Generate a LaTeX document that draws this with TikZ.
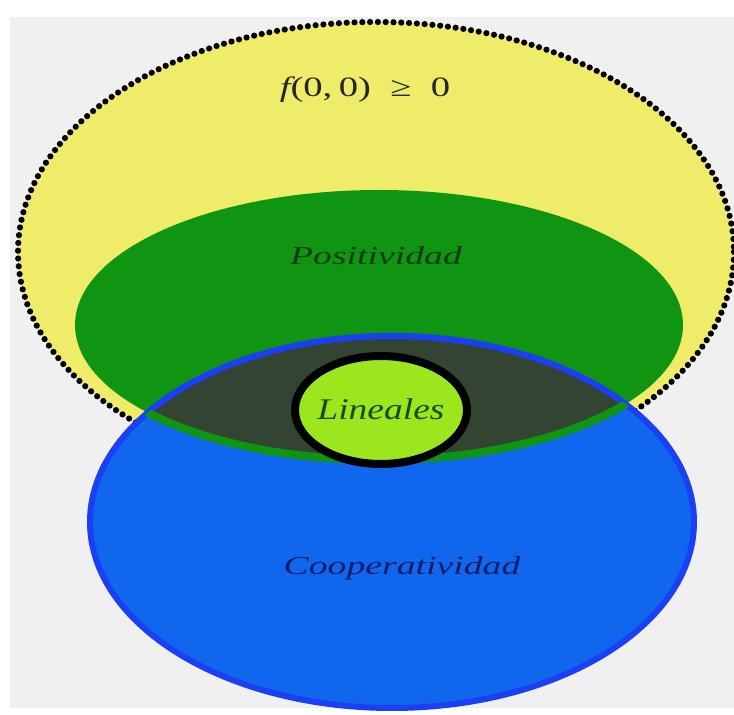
\documentclass[tikz,border=0pt]{standalone}
\usepackage{fontspec}
\usepackage{graphicx}
\setmainfont{Liberation Serif}
\definecolor{bggray}{HTML}{F0F0F0}
\definecolor{yellowfill}{HTML}{EFEC6A}
\definecolor{posgreen}{HTML}{0F9512}
\definecolor{coopblue}{HTML}{1166EE}
\definecolor{coopedge}{HTML}{1A3FF5}
\definecolor{darkcore}{HTML}{334433}
\definecolor{limefill}{HTML}{9CE61E}
\definecolor{postext}{HTML}{143A14}
\definecolor{lintext}{HTML}{1A4A1A}
\definecolor{cooptext}{HTML}{0B1E6E}
\tikzset{
	dotborder/.style={draw=black, line width=3.1pt, line cap=round, dash pattern=on 0pt off 3.9pt},
	setlabel/.style={anchor=base, inner sep=0pt, font=\fontsize{13pt}{15pt}\selectfont\itshape}
}
\newcommand{\wide}[2][1.45]{\scalebox{#1}[1]{#2}}
\begin{document}
\begin{tikzpicture}[x=0.5pt, y=-0.5pt]
	\fill[white] (0,0) rectangle (734,715);
	\fill[bggray] (10,17) rectangle (734,708);
	\useasboundingbox (0,0) rectangle (734,715);
	\coordinate (cero) at (376,252);
	\coordinate (posi) at (379,325);
	\coordinate (coop) at (392,522);
	\coordinate (lin) at (381,410);
	\fill[yellowfill] (cero) ellipse [x radius=358, y radius=230];
	\draw[dotborder] (cero) ellipse [x radius=358, y radius=230];
	\fill[posgreen] (posi) ellipse [x radius=304, y radius=135];
	\filldraw[fill=coopblue, draw=coopedge, line width=3pt] (coop) ellipse [x radius=302, y radius=186];
	\begin{scope}
		\clip (posi) ellipse [x radius=304, y radius=135];
		\filldraw[fill=darkcore, draw=coopedge, line width=3pt] (coop) ellipse [x radius=302, y radius=186];
	\end{scope}
	\begin{scope}
		\clip (coop) ellipse [x radius=302, y radius=186];
		\draw[posgreen, line width=4pt] (posi) ellipse [x radius=304, y radius=135];
	\end{scope}
	\filldraw[fill=limefill, draw=black, line width=4pt] (lin) ellipse [x radius=86, y radius=54];
	\node[setlabel, font=\fontsize{14pt}{16pt}\selectfont, text=black!85] (cerolabel) at (365,97) {\wide[1.38]{{\itshape f}(0,\,0)\enspace≥\enspace0}};
	\node[setlabel, text=postext] (posilabel) at (376,265) {\wide{Positividad}};
	\node[setlabel, font=\fontsize{15pt}{17pt}\selectfont\itshape, text=lintext] (linlabel) at (381,420) {\wide[1.25]{Lineales}};
	\node[setlabel, text=cooptext] (cooplabel) at (402,575) {\wide{Cooperatividad}};
\end{tikzpicture}
\end{document}
